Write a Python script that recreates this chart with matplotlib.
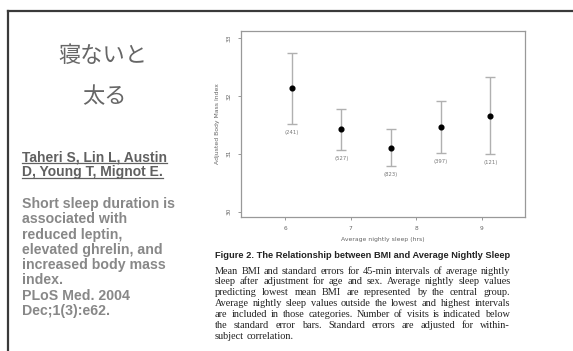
import matplotlib
matplotlib.use("Agg")
import matplotlib.pyplot as plt
from matplotlib.lines import Line2D

W, H = 573, 351

# Data: adjusted BMI by average nightly sleep interval
sleep_hours = [6.11, 6.86, 7.61, 8.38, 9.13]
bmi_mean = [32.13, 31.42, 31.10, 31.46, 31.66]
bmi_se = [0.61, 0.35, 0.32, 0.45, 0.66]
visits = ["(241)", "(527)", "(823)", "(397)", "(121)"]
x_ticks = [6, 7, 8, 9]
y_ticks = [30, 31, 32, 33]

title_lines = ["寝ないと", "太る"]
author_lines = ["Taheri S, Lin L, Austin", "D, Young T, Mignot E."]
body_lines = ["Short sleep duration is", "associated with", "reduced leptin,",
              "elevated ghrelin, and", "increased body mass", "index.",
              "PLoS Med. 2004", "Dec;1(3):e62."]
caption_title = "Figure 2. The Relationship between BMI and Average Nightly Sleep"
caption_lines = [
    "Mean BMI and standard errors for 45-min intervals of average nightly",
    "sleep after adjustment for age and sex. Average nightly sleep values",
    "predicting lowest mean BMI are represented by the central group.",
    "Average nightly sleep values outside the lowest and highest intervals",
    "are included in those categories. Number of visits is indicated below",
    "the standard error bars. Standard errors are adjusted for within-",
    "subject correlation.",
]


def fx(x):
    return x / W


def fy(y):
    return 1 - y / H


fig = plt.figure(figsize=(W / 100, H / 100), dpi=100)
fig.patch.set_facecolor("white")

# Slide frame lines
fig.add_artist(Line2D([fx(8), 1], [fy(11), fy(11)], transform=fig.transFigure,
                      color="#3a3a3a", lw=1.6))
fig.add_artist(Line2D([fx(8), fx(8)], [fy(11), 0], transform=fig.transFigure,
                      color="#3a3a3a", lw=1.6))

# Title
cjk = ["Noto Sans CJK JP", "DejaVu Sans"]
fig.text(fx(103), fy(56), title_lines[0], family=cjk, fontsize=16,
         color="#666666", ha="center", va="center")
fig.text(fx(104), fy(97), title_lines[1], family=cjk, fontsize=16,
         color="#666666", ha="center", va="center")

# Citation block
author_texts = []
for i, line in enumerate(author_lines):
    t = fig.text(fx(22), fy(157 + 15 * i), line, family="Liberation Sans",
                 fontweight="bold", fontsize=10.0, color="#606060",
                 ha="left", va="center")
    author_texts.append(t)
for i, line in enumerate(body_lines):
    fig.text(fx(22), fy(204 + 15.3 * i), line, family="Liberation Sans",
             fontweight="bold", fontsize=10.2, color="#888888",
             ha="left", va="center")

# Chart
ax = fig.add_axes([fx(240.7), fy(217.3), fx(525) - fx(240.7), fy(30.7) - fy(217.3)])
ax.errorbar(sleep_hours, bmi_mean, yerr=bmi_se, fmt="o", color="black",
            markersize=3.4, ecolor="#b0b0b0", elinewidth=1.0, capsize=3.5,
            capthick=1.0)
for xv, yv, se, lab in zip(sleep_hours, bmi_mean, bmi_se, visits):
    ax.annotate(lab, (xv, yv - se), xytext=(0, -6), textcoords="offset points",
                ha="center", va="center", fontsize=3.8, color="#777777")
ax.set_xlim(5.325, 9.66)
ax.set_ylim(29.9, 33.13)
ax.set_xticks(x_ticks)
ax.set_yticks(y_ticks)
ax.tick_params(axis="both", length=2.5, width=0.6, colors="#888888",
               labelsize=4.2, labelcolor="#666666", pad=4)
for lab in ax.get_yticklabels():
    lab.set_rotation(90)
    lab.set_va("center")
for s in ax.spines.values():
    s.set_color("#999999")
    s.set_linewidth(0.9)
ax.set_xlabel("Average nightly sleep (hrs)", fontsize=4.4, color="#666666", labelpad=4)
ax.set_ylabel("Adjusted Body Mass Index", fontsize=4.4, color="#666666", labelpad=5)

# Caption
fig.canvas.draw()
renderer = fig.canvas.get_renderer()

# Underline the author lines
for t in author_texts:
    bb = t.get_window_extent(renderer)
    yb = bb.y0 + 1.0
    fig.add_artist(Line2D([bb.x0 / W, bb.x1 / W], [yb / H, yb / H],
                          transform=fig.transFigure, color="#606060", lw=0.9))

cap_left, cap_right = 215, 510
cap_w = cap_right - cap_left

ct = fig.text(fx(cap_left), fy(256), caption_title, family="Liberation Sans",
              fontweight="bold", fontsize=7, color="#222222", ha="left", va="center")
bb = ct.get_window_extent(renderer)
ct.set_fontsize(7 * cap_w / bb.width)

# Pick a body size so the longest line fits the column with normal spacing
probe = [fig.text(0, 0, line, family="Liberation Serif", fontsize=7)
         for line in caption_lines]
longest = max(p.get_window_extent(renderer).width for p in probe)
for p in probe:
    p.remove()
body_size = 7 * cap_w / longest * 0.985


def justified(line, y, last=False):
    words = line.split(" ")
    ts = [fig.text(0, fy(y), w, family="Liberation Serif", fontsize=body_size,
                   color="#222222", ha="left", va="center") for w in words]
    widths = [t.get_window_extent(renderer).width for t in ts]
    if last or len(words) == 1:
        space = body_size * 0.35
    else:
        space = (cap_w - sum(widths)) / (len(words) - 1)
    x = cap_left
    for t, w in zip(ts, widths):
        t.set_x(fx(x))
        x += w + space


for i, line in enumerate(caption_lines):
    justified(line, 271 + 10.9 * i, last=(i == len(caption_lines) - 1))

fig.savefig("out.png", dpi=100, facecolor="white")
